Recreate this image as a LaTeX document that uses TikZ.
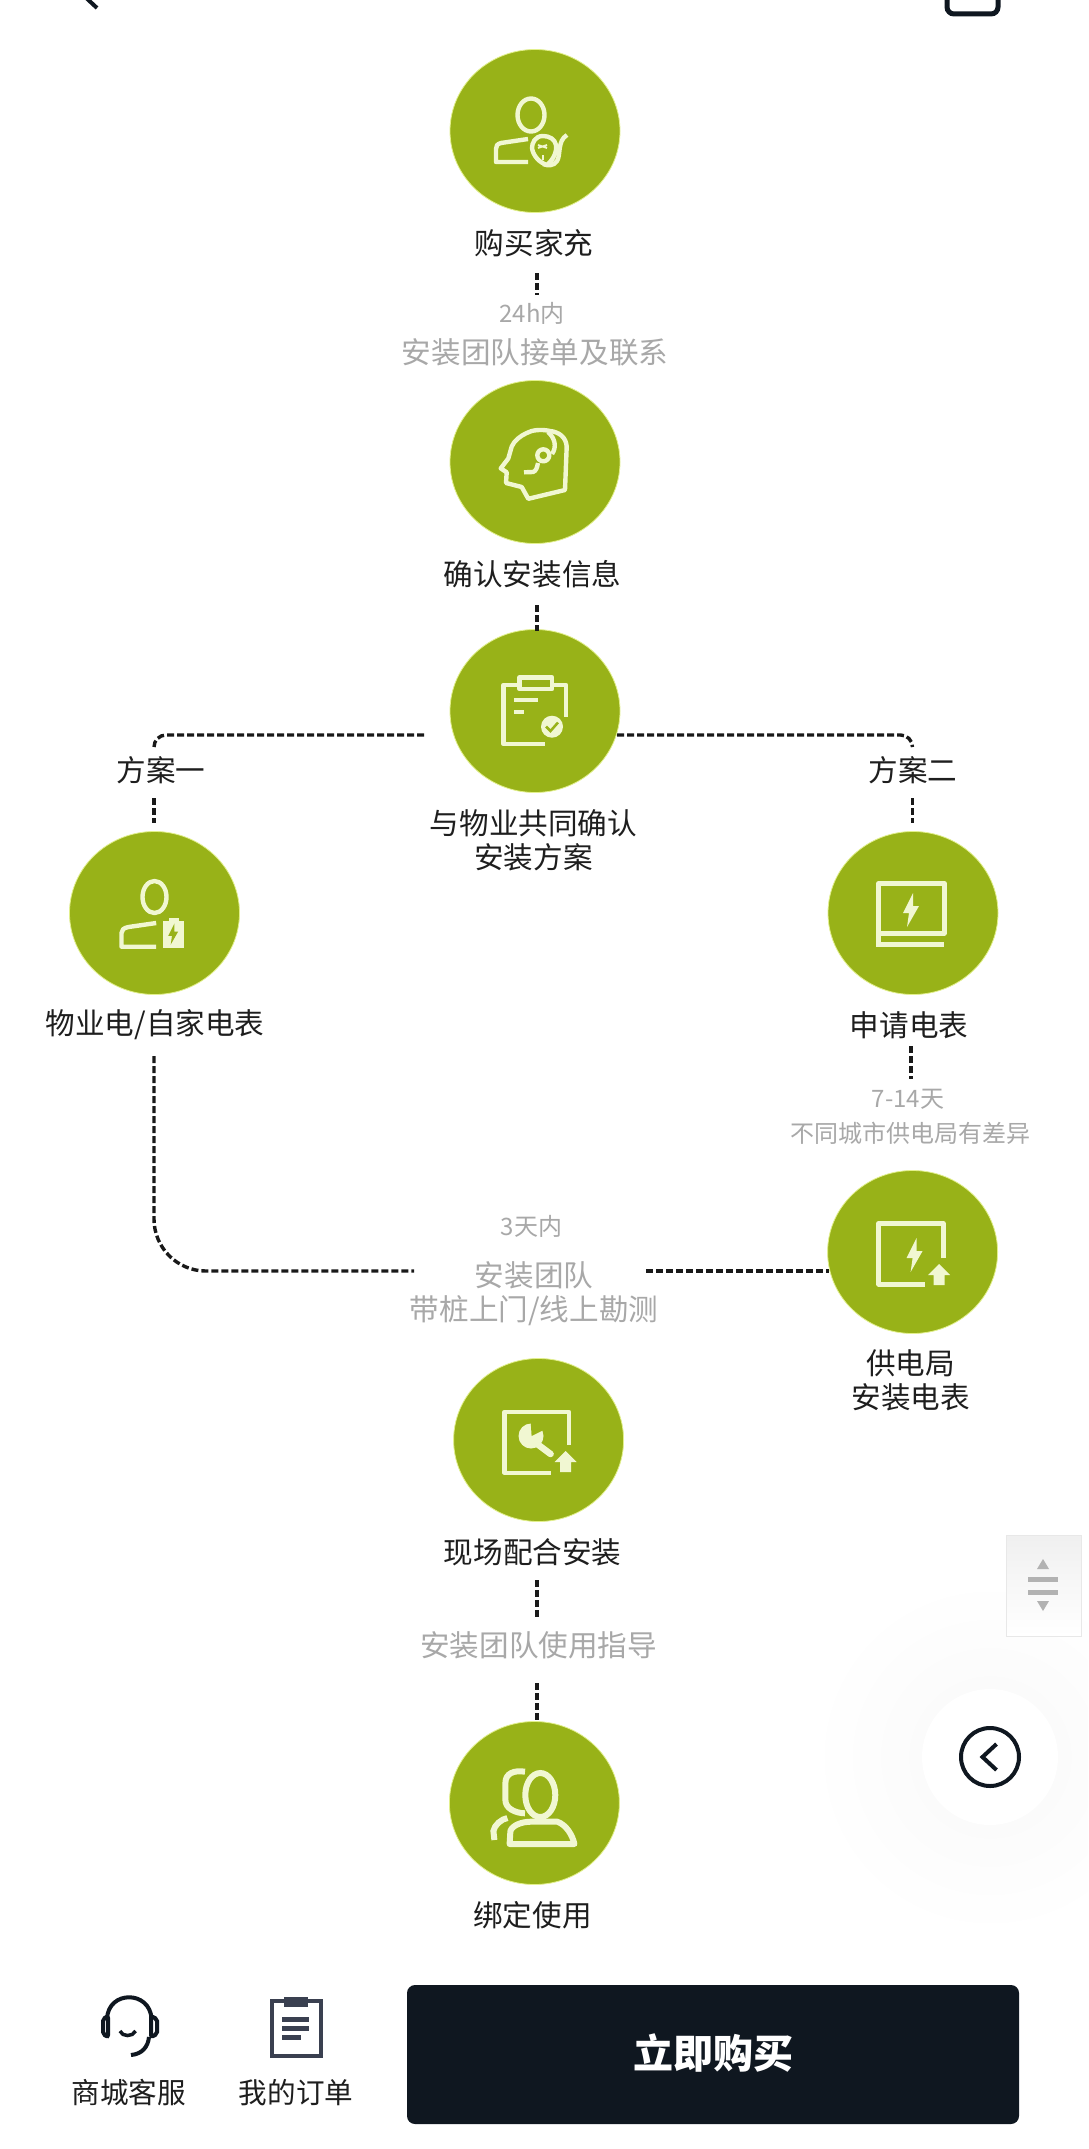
\documentclass[tikz,border=0pt]{standalone}
\usepackage{fontspec}
\usetikzlibrary{shapes.geometric}
\setmainfont{Noto Sans CJK SC}
\newfontfamily\cjk{Noto Sans CJK SC}
\definecolor{leaf}{HTML}{98B218}
\definecolor{leafrim}{HTML}{E2F08C}
\definecolor{iconc}{HTML}{F1F7D2}
\definecolor{inkc}{HTML}{1E1E1E}
\definecolor{greyc}{HTML}{A8A8A8}
\definecolor{navy}{HTML}{0F1720}
\definecolor{slatec}{HTML}{3A4050}
\tikzset{
  stepdisc/.style={ellipse,fill=leaf,draw=leafrim,line width=0.8pt,minimum width=170pt,minimum height=163pt,inner sep=0pt},
  mainlabel/.style={inner sep=0pt,text=inkc,align=center,font=\cjk\fontsize{29.6}{34}\selectfont},
  greylabel/.style={inner sep=0pt,text=greyc,align=center,font=\cjk\fontsize{29.6}{34}\selectfont},
  smallgrey/.style={inner sep=0pt,text=greyc,align=center,font=\cjk\fontsize{24}{28}\selectfont},
  dashlink/.style={draw=black!90,line width=3.4pt,dash pattern=on 7pt off 3pt},
  iconl/.style={draw=iconc,line width=4.4pt,line join=round,fill=none},
  boltpic/.pic={\fill[iconc] (2,-17)--(-8,3)--(-2,3)--(-4,17)--(8,-4)--(2,-4)--cycle;},
  arrowpic/.pic={\fill[iconc] (0,-11)--(11,0)--(5.5,0)--(5.5,10)--(-5.5,10)--(-5.5,0)--(-11,0)--cycle;}
}
\begin{document}
\begin{tikzpicture}[x=1pt,y=-1pt]
\useasboundingbox (0,0) rectangle (1088,2149);
\fill[white] (0,0) rectangle (1088,2149);
% faint glow behind the floating button
\begin{scope}
\clip (0,0) rectangle (1088,2149);
\shade[inner color=black!2.5,outer color=white] (990,1757) circle [radius=180];
\fill[white] (990,1757) circle [radius=68];
\end{scope}
% top cut-off fragments
\draw[line width=4pt,color=navy] (82,-6) -- (97,8);
\draw[line width=5pt,color=navy,rounded corners=7pt] (947,-20) -- (947,14) -- (998,14) -- (998,-20);

% step discs
\node[stepdisc] (buy) at (535,131) {};
\node[stepdisc] (confirm) at (535,462) {};
\node[stepdisc] (plan) at (535,711) {};
\node[stepdisc] (own) at (154.5,913) {};
\node[stepdisc] (apply) at (913,913) {};
\node[stepdisc] (bureau) at (912.6,1252) {};
\node[stepdisc] (site) at (538.6,1440) {};
\node[stepdisc] (bind) at (534.4,1803) {};

% labels
\node[mainlabel] (tbuy) at (534,243.5) {购买家充};
\node[smallgrey] (t24) at (532,313) {24h内};
\node[greylabel] (tteam) at (535,352) {安装团队接单及联系};
\node[mainlabel] (tconfirm) at (532.5,574) {确认安装信息};
\node[mainlabel] (tone) at (161,770) {方案一};
\node[mainlabel] (ttwo) at (913,770) {方案二};
\node[mainlabel] (tplan) at (533.5,840.5) {与物业共同确认\\安装方案};
\node[mainlabel] (town) at (155,1025) {物业电/自家电表};
\node[mainlabel] (tapply) at (909,1025) {申请电表};
\node[smallgrey] (t714) at (908,1099) {7-14天};
\node[smallgrey] (tcity) at (910,1133) {不同城市供电局有差异};
\node[smallgrey] (t3) at (531.5,1226) {3天内};
\node[greylabel] (tvisit) at (534,1293.5) {安装团队\\带桩上门/线上勘测};
\node[mainlabel] (tbureau) at (910.6,1380.5) {供电局\\安装电表};
\node[mainlabel] (tsite) at (532.7,1552) {现场配合安装};
\node[greylabel] (tguide) at (538.6,1645) {安装团队使用指导};
\node[mainlabel] (tbind) at (532.5,1915) {绑定使用};

% connector ends
\coordinate (a1) at (537,273); \coordinate (a2) at (537,295);
\coordinate (b1) at (537,605); \coordinate (b2) at (537,631);
\coordinate (c1) at (424,735); \coordinate (c2) at (154,735); \coordinate (c3) at (154,747);
\coordinate (d1) at (617,735); \coordinate (d2) at (912.5,735); \coordinate (d3) at (912.5,747);
\coordinate (e1) at (154,798); \coordinate (e2) at (154,823);
\coordinate (f1) at (912.5,798); \coordinate (f2) at (912.5,823);
\coordinate (g1) at (911,1046); \coordinate (g2) at (911,1079);
\coordinate (h1) at (154,1056); \coordinate (h2) at (154,1271); \coordinate (h3) at (414,1271);
\coordinate (i1) at (646,1271); \coordinate (i2) at (829,1271);
\coordinate (j1) at (537,1580); \coordinate (j2) at (537,1617);
\coordinate (k1) at (537,1683); \coordinate (k2) at (537,1722);

\draw[dashlink] (a1) -- (a2);
\draw[dashlink] (b1) -- (b2);
\draw[dashlink,rounded corners=12pt] (c1) -- (c2) -- (c3);
\draw[dashlink,rounded corners=12pt] (d1) -- (d2) -- (d3);
\draw[dashlink] (e1) -- (e2);
\draw[dashlink] (f1) -- (f2);
\draw[dashlink] (g1) -- (g2);
\draw[dashlink,rounded corners=52pt] (h1) -- (h2) -- (h3);
\draw[dashlink] (i1) -- (i2);
\draw[dashlink] (j1) -- (j2);
\draw[dashlink] (k1) -- (k2);

% icon: buy
\begin{scope}[shift={(buy.center)}]
\draw[iconl] (-4,-16) ellipse [x radius=13.5,y radius=16.5];
\draw[iconl] (-7,8) -- (-34,12) .. controls (-38,13) and (-39,15) .. (-39,18) -- (-39,31) -- (-7,31);
\draw[iconl] (8,5) .. controls (0,5) and (-3,12) .. (-3,17) .. controls (-2,25) and (5,32) .. (12,34) .. controls (19,28) and (22,20) .. (21,14) .. controls (20,8) and (14,5) .. (8,5);
\draw[iconl] (32,4) .. controls (22,10) and (26,24) .. (22,30) .. controls (19,35) and (13,35) .. (8,33);
\draw[iconc,line width=1.8pt] (3,14) -- (12,17) (3,17) -- (12,14) (8,24) -- (8,29);
\end{scope}
% icon: head with headset
\begin{scope}[shift={(confirm.center)}]
\draw[iconl] (30,28) -- (31.7,-15.4) .. controls (31,-25) and (24,-30) .. (15,-31) .. controls (6,-33) and (-3,-32) .. (-8.3,-29) .. controls (-15,-26) and (-21,-21) .. (-23.3,-15.4) -- (-26.7,-3.5) -- (-34.3,6.4) -- (-28.3,10.3) -- (-29,21) -- (-13.3,25) -- (-6.7,36.8) -- cycle;
\draw[iconl] (13,-30) .. controls (20,-24) and (22,-15) .. (17,-8);
\draw[iconl] (8.3,-6.7) circle [radius=6];
\draw[iconl] (3,1) .. controls (2,6) and (1,9) .. (-2,10) -- (-11,10.3);
\end{scope}
% icon: clipboard with check
\begin{scope}[shift={(plan.center)}]
\draw[iconl] (-15,-26) -- (-31.5,-26) -- (-31.5,33) -- (10,33);
\draw[iconl] (17,-26) -- (31,-26) -- (31,5.7);
\draw[iconl] (-15.5,-33.7) rectangle (17,-22);
\draw[iconc,line width=4.4pt] (-21,-11) -- (3,-11) (-21,0.7) -- (-11,0.7);
\fill[iconc] (17,15.7) circle [radius=11];
\draw[leaf,line width=2.5pt] (11,15.5) -- (15.5,20) -- (23,11.5);
\end{scope}
% icon: user with battery
\begin{scope}[shift={(own.center)}]
\draw[iconl] (0,-16) ellipse [x radius=12,y radius=16];
\draw[iconl] (1.7,10) -- (-26,14) .. controls (-31,15) and (-33,17) .. (-33,20) -- (-33,33.7) -- (1.7,33.7);
\fill[iconc] (8,8) rectangle (29.5,34.5);
\fill[iconc] (14,4.5) rectangle (24,8);
\begin{scope}[shift={(18.7,21)},scale=0.62]
\fill[leaf] (2,-17)--(-8,3)--(-2,3)--(-4,17)--(8,-4)--(2,-4)--cycle;
\end{scope}
\end{scope}
% icon: meter
\begin{scope}[shift={(apply.center)}]
\draw[iconl] (-34.5,-29.7) rectangle (31.4,20.3);
\draw[iconl] (-34.5,20.3) -- (-34.5,31.5);
\draw[iconc,line width=5pt] (-36.7,31.5) -- (31.4,31.5);
\pic at (-2,-3) {boltpic};
\end{scope}
% icon: installed meter
\begin{scope}[shift={(bureau.center)}]
\draw[iconl] (30.7,6.3) -- (30.7,-28.7) -- (-34,-28.7) -- (-34,32.3) -- (12.3,32.3);
\pic at (2,3) {boltpic};
\pic at (26.6,23) {arrowpic};
\end{scope}
% icon: wrench
\begin{scope}[shift={(site.center)}]
\draw[iconl] (30.4,5) -- (30.4,-28) -- (-34,-28) -- (-34,32.7) -- (12,32.7);
\draw[iconc,line width=6.5pt,line cap=round] (-4,2) -- (12,14);
\fill[iconc] (-7.6,-4) circle [radius=12.5];
\fill[leaf] (-7,-4) -- (-8,-20) -- (7,-11) -- cycle;
\pic at (27,22) {arrowpic};
\end{scope}
% icon: two users
\begin{scope}[shift={(bind.center)}]
\draw[iconc,line width=6pt] (5.9,-8) ellipse [x radius=15,y radius=22];
\draw[iconc,line width=6pt] (-9.4,-31.3) .. controls (-20,-33) and (-29,-30) .. (-29,-20) -- (-29,-3) .. controls (-29,5) and (-20,10) .. (-9.4,10.3);
\draw[iconc,line width=6pt,line join=round] (-24.8,41) -- (-24,28) .. controls (-22,22) and (-12,18.7) .. (-3.8,18.7) -- (23,18.7) .. controls (32,22) and (38,32) .. (40,41) -- cycle;
\draw[iconc,line width=6pt] (-40,37) -- (-41,28) .. controls (-40,22) and (-33,16) .. (-27,15);
\end{scope}

% scroll widget
\node[draw=black!9,line width=1pt,top color=black!6,bottom color=white,minimum width=75pt,minimum height=101pt,inner sep=0pt] (scroller) at (1043.5,1585.5) {};
\fill[black!30] (1043,1559) -- (1049,1569) -- (1037,1569) -- cycle;
\fill[black!30] (1043,1611) -- (1049,1601) -- (1037,1601) -- cycle;
\fill[black!30] (1028,1577) rectangle (1058,1582);
\fill[black!30] (1028,1589.5) rectangle (1058,1594.5);
% back button
\node[circle,draw=navy,line width=4pt,minimum size=58pt,inner sep=0pt] (back) at (990,1757) {};
\draw[navy,line width=4pt] (996.5,1744) -- (982.5,1757) -- (996.5,1770);

% bottom bar
\node[mainlabel,font=\cjk\fontsize{28.6}{32}\selectfont] (tshop) at (128.6,2093) {商城客服};
\node[mainlabel,font=\cjk\fontsize{28.6}{32}\selectfont] (torder) at (296,2093) {我的订单};
\node[fill=navy,rounded corners=8pt,minimum width=612pt,minimum height=139pt,inner sep=0pt] (buynow) at (713,2054.5) {};
\node[inner sep=0pt,text=white,font=\cjk\bfseries\fontsize{40}{44}\selectfont] (tbuynow) at (713,2053) {立即购买};
% headset
\draw[navy,line width=4pt] (107,2019) .. controls (108,1990) and (150,1990) .. (151.6,2019);
\draw[navy,line width=4pt,rounded corners=2pt] (108,2016) -- (103,2019) -- (103,2034) -- (108,2037) -- cycle;
\draw[navy,line width=4pt,rounded corners=2pt] (151,2016) -- (157,2019) -- (157,2034) -- (151,2037) -- cycle;
\draw[navy,line width=4pt] (149,2037) .. controls (148,2047) and (142,2054) .. (131,2055);
\draw[navy,line width=3.5pt] (120,2031) .. controls (122,2037) and (133,2037) .. (135.6,2031);
% order clipboard
\draw[slatec,line width=4pt] (271.5,2001) rectangle (321,2056);
\fill[slatec] (284,1997) rectangle (308,2007);
\fill[slatec] (282,2017) rectangle (309,2021.5);
\fill[slatec] (282,2026) rectangle (309,2030.5);
\fill[slatec] (282,2035) rectangle (301,2039.5);
\end{tikzpicture}
\end{document}
